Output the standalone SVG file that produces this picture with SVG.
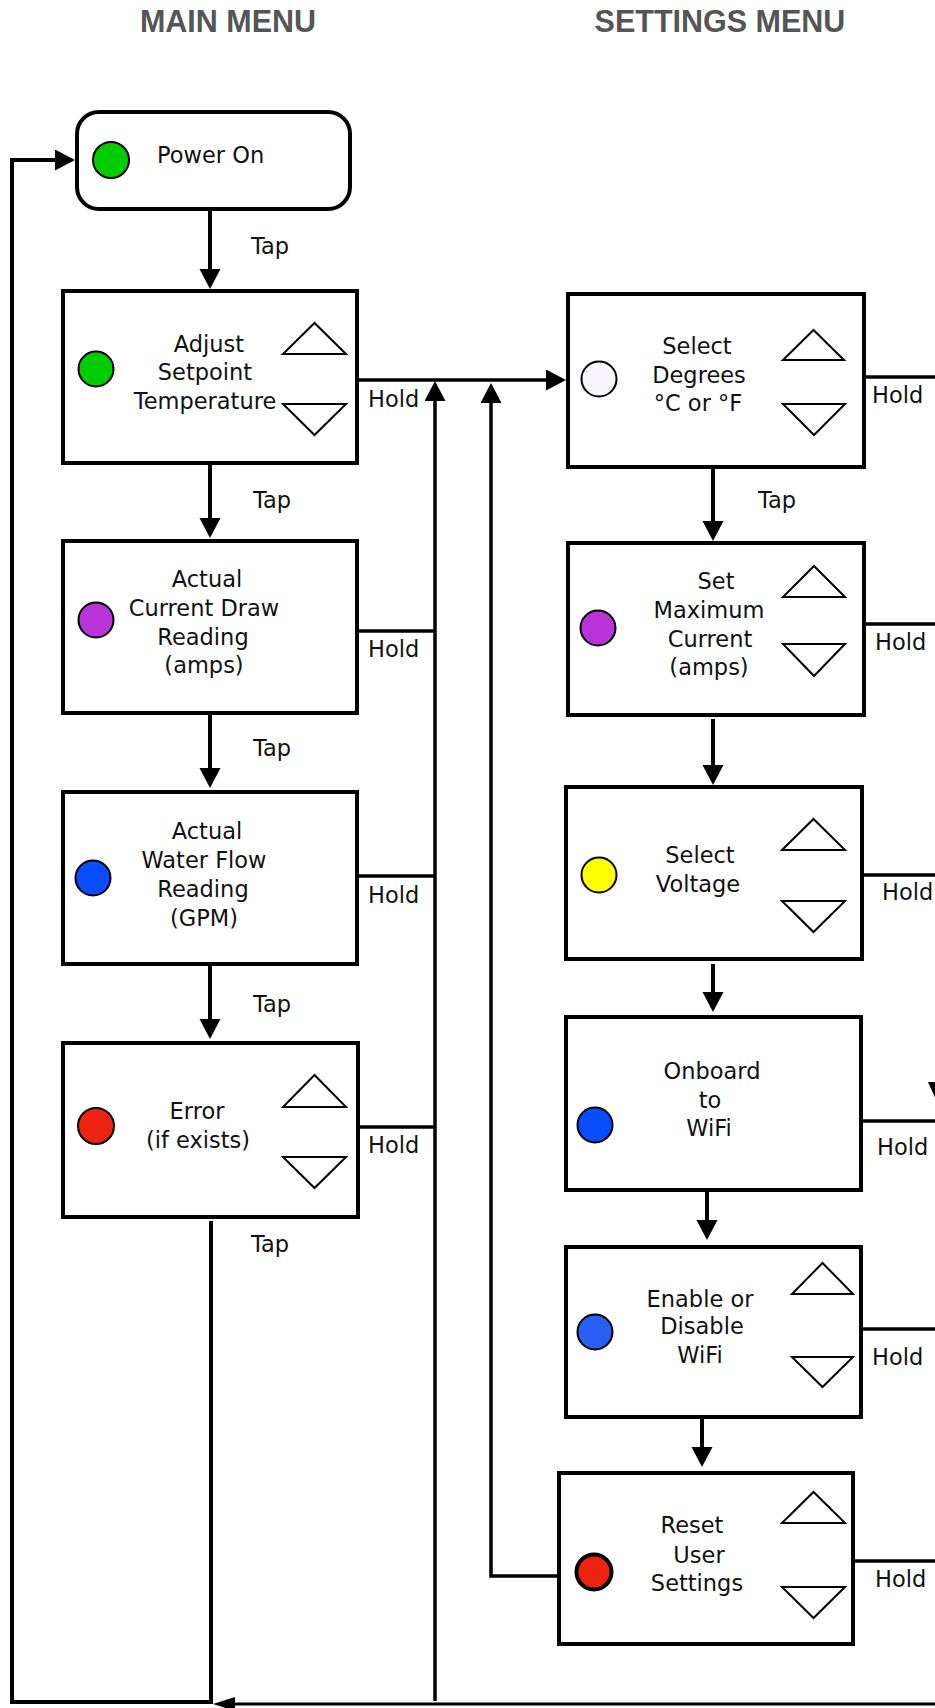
<svg xmlns="http://www.w3.org/2000/svg" width="935" height="1708" viewBox="0 0 935 1708">
<style>
.hdr{font-family:"Liberation Sans",Arial,sans-serif;font-weight:bold;font-size:30.5px;fill:#555;text-anchor:middle}
.t{font-family:"DejaVu Sans","Noto Sans",sans-serif;font-size:22.5px;fill:#111}
.c{text-anchor:middle}
.box{fill:#fff;stroke:#000;stroke-width:4}
.tri{fill:#fff;stroke:#000;stroke-width:2}
.led{stroke:#000;stroke-width:2}
.main{fill:none;stroke:#000;stroke-width:4}
.hold{fill:none;stroke:#000;stroke-width:3.5}
.thin{fill:none;stroke:#000;stroke-width:3}
.ah{marker-end:url(#arr)}
</style>
<defs>
<marker id="arr" markerUnits="userSpaceOnUse" markerWidth="22" markerHeight="22" refX="14" refY="10.5" orient="auto">
<path d="M0,0 L20,10.5 L0,21 z" fill="#000"/>
</marker>
<marker id="arrS" markerUnits="userSpaceOnUse" markerWidth="24" markerHeight="16" refX="16" refY="7" orient="auto">
<path d="M0,0 L22,7 L0,14 z" fill="#000"/>
</marker>
</defs>
<rect width="935" height="1708" fill="#fff"/>

<text class="hdr" x="228" y="32">MAIN MENU</text>
<text class="hdr" x="720" y="32">SETTINGS MENU</text>

<g id="connectors">
<path class="main ah" d="M210,209 V283"/>
<path class="main ah" d="M210,463 V532"/>
<path class="main ah" d="M210,713 V782"/>
<path class="main ah" d="M210,964 V1033"/>
<path class="main ah" d="M211,1221 V1702 H12 V160 H69"/>
<path class="hold ah" d="M357,380 H560"/>
<path class="hold" d="M357,631 H435"/>
<path class="hold" d="M357,876 H435"/>
<path class="hold" d="M358,1127 H435"/>
<path class="hold ah" d="M435,1701 V387"/>
<path class="hold ah" d="M559,1576 H491 V389"/>
<path class="main ah" d="M713,467 V535"/>
<path class="main ah" d="M713,719 V779"/>
<path class="main ah" d="M713,964 V1006"/>
<path class="main ah" d="M707,1190 V1234"/>
<path class="main ah" d="M702,1417 V1461"/>
<path class="hold" d="M864,377 H935"/>
<path class="hold" d="M864,624 H935"/>
<path class="hold" d="M862,875 H935"/>
<path class="hold" d="M861,1121 H935"/>
<path class="hold" d="M861,1329 H935"/>
<path class="hold" d="M853,1561 H935"/>
<path class="thin" d="M935,1704 H219" marker-end="url(#arrS)"/>
<polygon points="928,1082 946,1082 937,1102" fill="#000"/>
<text class="t" x="251" y="254">Tap</text>
<text class="t" x="253" y="508">Tap</text>
<text class="t" x="253" y="756">Tap</text>
<text class="t" x="253" y="1012">Tap</text>
<text class="t" x="251" y="1252">Tap</text>
<text class="t" x="758" y="508">Tap</text>
<text class="t" x="368" y="407">Hold</text>
<text class="t" x="368" y="657">Hold</text>
<text class="t" x="368" y="903">Hold</text>
<text class="t" x="368" y="1153">Hold</text>
<text class="t" x="872" y="403">Hold</text>
<text class="t" x="875" y="650">Hold</text>
<text class="t" x="882" y="900">Hold</text>
<text class="t" x="877" y="1155">Hold</text>
<text class="t" x="872" y="1365">Hold</text>
<text class="t" x="875" y="1587">Hold</text>
</g>

<g id="power-on">
<rect class="box" x="77" y="112" width="273" height="97" rx="22"/>
<circle class="led" cx="111" cy="160" r="18" fill="#0c0"/>
<text class="t" x="157" y="163">Power On</text>
</g>

<g id="adjust-setpoint">
<rect class="box" x="63" y="291" width="294" height="172"/>
<circle class="led" cx="96" cy="369" r="17.5" fill="#0c0"/>
<text class="t c" x="207"><tspan x="209" y="352">Adjust</tspan><tspan x="205" y="380">Setpoint</tspan><tspan x="205" y="409">Temperature</tspan></text>
<polygon class="tri" points="283,354 346,354 314.5,323"/>
<polygon class="tri" points="283,404 346,404 314.5,435"/>
</g>

<g id="current-draw">
<rect class="box" x="63" y="541" width="294" height="172"/>
<circle class="led" cx="96" cy="620" r="17.5" fill="#b833d8"/>
<text class="t c"><tspan x="207" y="587">Actual</tspan><tspan x="204" y="616">Current Draw</tspan><tspan x="203" y="645">Reading</tspan><tspan x="204" y="673">(amps)</tspan></text>
</g>

<g id="water-flow">
<rect class="box" x="63" y="792" width="294" height="172"/>
<circle class="led" cx="93" cy="878" r="17.5" fill="#0a4dff"/>
<text class="t c"><tspan x="207" y="839">Actual</tspan><tspan x="204" y="868">Water Flow</tspan><tspan x="203" y="897">Reading</tspan><tspan x="204" y="926">(GPM)</tspan></text>
</g>

<g id="error">
<rect class="box" x="63" y="1043" width="295" height="174"/>
<circle class="led" cx="96" cy="1126" r="18" fill="#ee2211"/>
<text class="t c"><tspan x="197" y="1119">Error</tspan><tspan x="198" y="1148">(if exists)</tspan></text>
<polygon class="tri" points="283,1107 346,1107 314.5,1075"/>
<polygon class="tri" points="283,1157 346,1157 314.5,1188"/>
</g>

<g id="select-degrees">
<rect class="box" x="568" y="294" width="296" height="173"/>
<circle class="led" cx="599" cy="379" r="17.5" fill="#f8f5fc"/>
<text class="t c"><tspan x="697" y="354">Select</tspan><tspan x="699" y="383">Degrees</tspan><tspan x="698" y="411">°C or °F</tspan></text>
<polygon class="tri" points="783,360 844,360 813.5,330"/>
<polygon class="tri" points="783,404 845,404 814,435"/>
</g>

<g id="set-max-current">
<rect class="box" x="568" y="543" width="296" height="172"/>
<circle class="led" cx="598" cy="628" r="17.5" fill="#b833d8"/>
<text class="t c"><tspan x="716" y="589">Set</tspan><tspan x="709" y="618">Maximum</tspan><tspan x="710" y="647">Current</tspan><tspan x="709" y="675">(amps)</tspan></text>
<polygon class="tri" points="783,597 845,597 814,566"/>
<polygon class="tri" points="783,644 845,644 814,676"/>
</g>

<g id="select-voltage">
<rect class="box" x="566" y="787" width="296" height="172"/>
<circle class="led" cx="599" cy="875" r="17.5" fill="#ff0"/>
<text class="t c"><tspan x="700" y="863">Select</tspan><tspan x="698" y="892">Voltage</tspan></text>
<polygon class="tri" points="782,850 845,850 813.5,819"/>
<polygon class="tri" points="782,901 845,901 813.5,932"/>
</g>

<g id="onboard-wifi">
<rect class="box" x="566" y="1017" width="295" height="173"/>
<circle class="led" cx="595" cy="1125" r="17.5" fill="#0a4dff"/>
<text class="t c"><tspan x="712" y="1079">Onboard</tspan><tspan x="710" y="1108">to</tspan><tspan x="709" y="1136">WiFi</tspan></text>
</g>

<g id="enable-wifi">
<rect class="box" x="566" y="1247" width="295" height="170"/>
<circle class="led" cx="595" cy="1332" r="17.5" fill="#2a60f2"/>
<text class="t c"><tspan x="700" y="1307">Enable or</tspan><tspan x="702" y="1334">Disable</tspan><tspan x="700" y="1363">WiFi</tspan></text>
<polygon class="tri" points="792,1294 853,1294 822.5,1263"/>
<polygon class="tri" points="792,1357 853,1357 822.5,1387"/>
</g>

<g id="reset-settings">
<rect class="box" x="559" y="1473" width="294" height="171"/>
<circle cx="594" cy="1572" r="17.5" fill="#ee2211" stroke="#000" stroke-width="4"/>
<text class="t c"><tspan x="692" y="1533">Reset</tspan><tspan x="699" y="1563">User</tspan><tspan x="697" y="1591">Settings</tspan></text>
<polygon class="tri" points="782,1523 845,1523 813.5,1492"/>
<polygon class="tri" points="782,1587 845,1587 813.5,1618"/>
</g>
</svg>
